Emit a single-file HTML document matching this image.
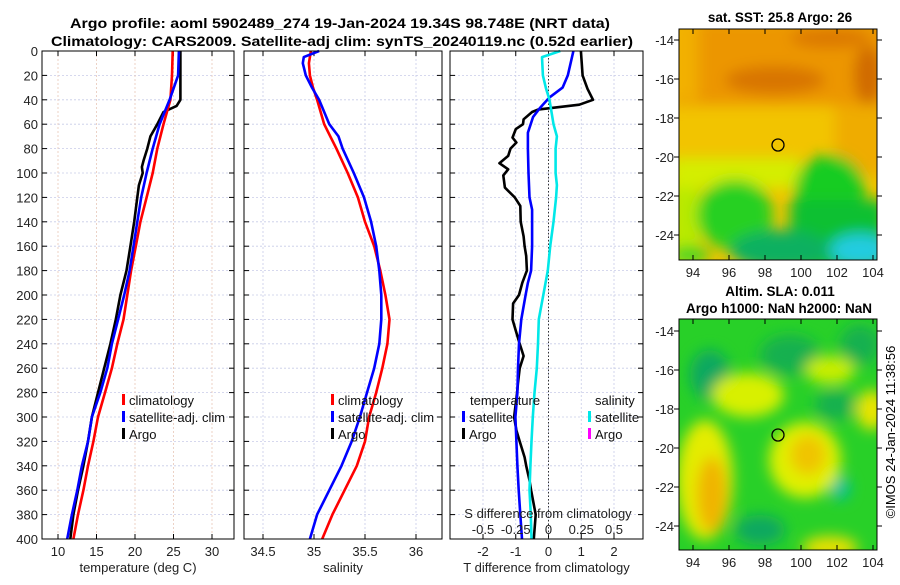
<!DOCTYPE html>
<html><head><meta charset="utf-8"><style>
body{margin:0;background:#fff;}
svg{font-family:"Liberation Sans","DejaVu Sans",sans-serif;}
</style></head><body>
<svg id="chart" width="900" height="580" viewBox="0 0 900 580" xmlns="http://www.w3.org/2000/svg">
<defs>
<filter id="bl" x="-20%" y="-20%" width="140%" height="140%"><feGaussianBlur stdDeviation="7"/></filter>
<clipPath id="c1"><rect x="679" y="29" width="198" height="231"/></clipPath>
<clipPath id="c2"><rect x="679" y="319" width="198" height="231"/></clipPath>
</defs>
<text x="340" y="28" font-size="13.5" font-weight="bold" text-anchor="middle" textLength="540" lengthAdjust="spacingAndGlyphs">Argo profile: aoml 5902489_274 19-Jan-2024 19.34S 98.748E (NRT data)</text>
<text x="342" y="46" font-size="13.5" font-weight="bold" text-anchor="middle" textLength="582" lengthAdjust="spacingAndGlyphs">Climatology: CARS2009. Satellite-adj clim: synTS_20240119.nc (0.52d earlier)</text>

<!-- SST map -->
<g clip-path="url(#c1)">
<rect x="679" y="29" width="198" height="231" fill="#f2c400"/>
<g filter="url(#bl)">
<rect x="670" y="20" width="220" height="85" fill="#ec9600"/>
<rect x="670" y="20" width="28" height="80" fill="#f2b000"/>
<ellipse cx="775" cy="80" rx="50" ry="14" fill="#d87400"/>
<ellipse cx="868" cy="75" rx="14" ry="30" fill="#d06a00"/>
<ellipse cx="830" cy="38" rx="40" ry="10" fill="#dc7800"/>
<rect x="835" y="105" width="50" height="70" fill="#efac00"/>
<rect x="670" y="158" width="130" height="30" fill="#d4ee00"/>
<rect x="670" y="188" width="30" height="80" fill="#b8ea00"/>
<ellipse cx="735" cy="215" rx="38" ry="35" fill="#28d020"/>
<ellipse cx="830" cy="190" rx="35" ry="35" fill="#18cc20"/>
<rect x="790" y="200" width="95" height="70" fill="#10c030"/>
<ellipse cx="780" cy="250" rx="50" ry="20" fill="#10b060"/>
<ellipse cx="860" cy="250" rx="30" ry="16" fill="#20cce0"/>
<ellipse cx="690" cy="255" rx="20" ry="8" fill="#20d020"/>
</g>
</g>
<rect x="679" y="29" width="198" height="231" fill="none" stroke="#000" stroke-width="1"/>
<circle cx="778" cy="145" r="6" fill="none" stroke="#000" stroke-width="1.3"/>
<text x="780" y="22" font-size="13.5" font-weight="bold" text-anchor="middle">sat. SST: 25.8 Argo: 26</text>

<!-- SLA map -->
<g clip-path="url(#c2)">
<rect x="679" y="319" width="198" height="231" fill="#28d028"/>
<g filter="url(#bl)">
<ellipse cx="710" cy="375" rx="20" ry="25" fill="#10a860"/>
<ellipse cx="790" cy="355" rx="30" ry="20" fill="#18b050"/>
<ellipse cx="860" cy="345" rx="20" ry="20" fill="#18b050"/>
<ellipse cx="835" cy="405" rx="20" ry="15" fill="#18b050"/>
<ellipse cx="760" cy="530" rx="25" ry="15" fill="#10a860"/>
<ellipse cx="840" cy="488" rx="10" ry="12" fill="#00c0a0"/>
<ellipse cx="748" cy="395" rx="36" ry="22" fill="#d8f000"/>
<ellipse cx="830" cy="370" rx="25" ry="14" fill="#c8ee00"/>
<ellipse cx="705" cy="480" rx="28" ry="60" fill="#e4ec00"/>
<ellipse cx="712" cy="495" rx="15" ry="38" fill="#f0b400"/>
<ellipse cx="805" cy="460" rx="36" ry="38" fill="#e0f000"/>
<ellipse cx="808" cy="455" rx="18" ry="20" fill="#f0c400"/>
<ellipse cx="872" cy="410" rx="16" ry="20" fill="#e8e400"/>
<ellipse cx="830" cy="548" rx="28" ry="12" fill="#e8e000"/>
</g>
</g>
<rect x="679" y="319" width="198" height="231" fill="none" stroke="#000" stroke-width="1"/>
<circle cx="778" cy="435" r="6" fill="none" stroke="#000" stroke-width="1.3"/>
<text x="780" y="296" font-size="13.5" font-weight="bold" text-anchor="middle">Altim. SLA: 0.011</text>
<text x="779" y="313" font-size="13.5" font-weight="bold" text-anchor="middle">Argo h1000: NaN h2000: NaN</text>
<text x="895" y="432" font-size="13" text-anchor="middle" transform="rotate(-90 895 432)">©IMOS 24-Jan-2024 11:38:56</text>
<g id="plots"></g>
</svg>
<script>
// depth levels (m)
const depths = [0,20,40,60,80,100,120,140,160,180,200,220,240,260,280,300,320,340,360,380,400];
const tempClim = [24.9,24.8,24.6,23.7,22.9,22.3,21.5,20.7,20.1,19.5,19.0,18.5,17.7,17.0,16.1,15.2,14.6,13.9,13.3,12.6,12.0];
const tempSat  = [25.7,25.6,24.5,23.2,22.3,21.5,20.8,20.3,19.8,19.3,18.6,17.8,17.0,16.4,15.5,14.4,13.9,13.1,12.5,11.8,11.2];
const argoDepths = [0,40,45,50,60,70,80,90,95,100,110,120,140,160,180,200,220,240,260,280,300,320,340,360,380,400];
const tempArgo = [25.9,25.9,25.4,23.7,22.9,22.0,21.6,21.1,20.9,21.0,20.5,20.3,19.9,19.4,18.9,18.1,17.5,16.8,16.0,15.2,14.4,13.9,13.3,12.6,12.0,11.6];
const salDepths = [0,5,10,20,30,40,60,70,80,100,120,140,160,180,200,220,240,260,280,300,320,340,360,380,400];
const salClim = [34.97,34.96,34.95,34.96,34.99,35.03,35.10,35.16,35.22,35.33,35.43,35.50,35.59,35.65,35.70,35.74,35.72,35.67,35.61,35.54,35.50,35.42,35.30,35.18,35.08];
const salSat  = [35.05,34.90,34.89,34.92,34.98,35.05,35.15,35.24,35.28,35.39,35.49,35.56,35.61,35.64,35.66,35.66,35.64,35.59,35.52,35.45,35.37,35.27,35.15,35.03,34.96];
const tdSatDepths = [0,20,30,38,47,54,67,80,100,120,130,160,180,190,200,220,240,260,280,300,320,340,360,380,400];
const tdiffSat = [0.76,0.59,0.43,0.03,-0.27,-0.47,-0.63,-0.63,-0.61,-0.58,-0.50,-0.50,-0.53,-0.63,-0.70,-0.83,-0.90,-0.93,-0.95,-1.01,-0.98,-0.95,-0.91,-0.86,-0.81];
const tdArgoDepths = [0,20,31,40,44,48,50,56,60,64,71,75,80,86,92,97,102,112,120,127,140,152,160,168,180,190,200,207,220,231,240,250,260,272,280,300,311,320,333,340,352,360,380,400];
const tdiffArgo = [0.99,1.04,1.19,1.36,0.94,-0.32,-0.50,-0.76,-0.78,-1.00,-1.10,-0.98,-1.16,-1.23,-1.50,-1.23,-1.38,-1.33,-1.03,-0.86,-0.85,-0.76,-0.73,-0.68,-0.66,-0.80,-0.90,-1.08,-1.10,-0.98,-0.88,-0.76,-0.88,-0.93,-0.96,-1.05,-0.98,-0.88,-0.73,-0.68,-0.58,-0.53,-0.39,-0.45];
const sdDepths = [0,5,20,31,40,60,70,80,100,110,120,140,160,180,200,220,240,260,280,300,320,340,360,380,400];
const sdiffSat = [0.09,-0.05,-0.043,-0.018,0.008,0.038,0.064,0.054,0.054,0.064,0.058,0.038,0.013,-0.005,-0.04,-0.074,-0.08,-0.089,-0.107,-0.12,-0.13,-0.138,-0.145,-0.135,-0.13];
const depthTicks = [0,20,40,60,80,100,120,140,160,180,200,220,240,260,280,300,320,340,360,380,400];
const tempTicks = [10,15,20,25,30];
const salTicks = [34.5,35,35.5,36];
const tdTicks = [-2,-1,0,1,2];
const sdTicks = [-0.5,-0.25,0,0.25,0.5];
const sdTickLabels = ['-0.5','-0.25','0','0.25','0.5'];

const NS='http://www.w3.org/2000/svg';
const root=document.getElementById('plots');
function mk(tag,attrs,parent){const e=document.createElementNS(NS,tag);for(const k in attrs)e.setAttribute(k,attrs[k]);(parent||root).appendChild(e);return e;}
const Y0=51,Y1=539;
function yScale(d){return Y0+(d/400)*(Y1-Y0);}
function lin(d0,d1,r0,r1){return v=>r0+(v-d0)/(d1-d0)*(r1-r0);}
const panels=[
 {name:'temperature-panel',x0:42,x1:234,sx:lin(10,30,58,212),ticks:tempTicks,title:'temperature (deg C)',gridCol:'#e8c8b8',yl:true},
 {name:'salinity-panel',x0:244,x1:442,sx:lin(34.5,36,263,416),ticks:salTicks,title:'salinity',gridCol:'#c8cce8'},
 {name:'difference-panel',x0:450,x1:643,sx:lin(-2,2,483,614),ticks:tdTicks,title:'T difference from climatology',gridCol:'#c8cce8'}
];
panels.forEach(p=>{
 const g=mk('g',{});
 
 
 depthTicks.forEach(d=>{
  const y=yScale(d);
  const gl=mk('line',{x1:p.x0,x2:p.x1,y1:y,y2:y,stroke:'#c8cce8','stroke-width':0.8,'stroke-dasharray':'2,2'},g);
  
  
  mk('line',{x1:p.x0,x2:p.x0+5,y1:y,y2:y,stroke:'#000'},g);
  mk('line',{x1:p.x1,x2:p.x1-5,y1:y,y2:y,stroke:'#000'},g);
  if(p.yl){const t=mk('text',{x:38,y:y+5,'font-size':13,'text-anchor':'end',fill:'#222'},g);t.textContent=d;
   }
 });
 p.ticks.forEach(v=>{
  const x=p.sx(v);
  mk('line',{x1:x,x2:x,y1:Y0,y2:Y1,stroke:p.gridCol,'stroke-width':0.8,'stroke-dasharray':'2,2'},g);
  mk('line',{x1:x,x2:x,y1:Y1,y2:Y1-5,stroke:'#000'},g);
  mk('line',{x1:x,x2:x,y1:Y0,y2:Y0+5,stroke:'#000'},g);
  const t=mk('text',{x:x,y:556,'font-size':13,'text-anchor':'middle',fill:'#222'},g);t.textContent=v;
  
 });
 const tt=mk('text',{x:(p.x0+p.x1)/2,y:572,'font-size':13,'text-anchor':'middle',fill:'#222'},g);tt.textContent=p.title;
 
 p.g=g;
});
function line(g,xs,ds,sx,col,name,w){
 const pts=xs.map((v,i)=>sx(v).toFixed(1)+','+yScale(ds[i]).toFixed(1)).join(' ');
 const l=mk('polyline',{points:pts,fill:'none',stroke:col,'stroke-width':w||2.6,'stroke-linejoin':'round'},g);
 
 
}
const [P1,P2,P3]=panels;
line(P1.g,tempArgo,argoDepths,P1.sx,'#000','argo-temperature-line');
line(P1.g,tempClim,depths,P1.sx,'#ff0000','climatology-temperature-line');
line(P1.g,tempSat,depths,P1.sx,'#0000ff','satellite-temperature-line');
line(P2.g,salClim,salDepths,P2.sx,'#ff0000','climatology-salinity-line');
line(P2.g,salSat,salDepths,P2.sx,'#0000ff','satellite-salinity-line');
const z=mk('line',{x1:P3.sx(0),x2:P3.sx(0),y1:Y0,y2:Y1,stroke:'#333','stroke-width':1,'stroke-dasharray':'1.5,2'},P3.g);

const ssx=lin(-0.5,0.5,483,614);
line(P3.g,tdiffArgo,tdArgoDepths,P3.sx,'#000','argo-temperature-difference-line');
line(P3.g,tdiffSat,tdSatDepths,P3.sx,'#0000ff','satellite-temperature-difference-line');
line(P3.g,sdiffSat,sdDepths,ssx,'#00e8e8','satellite-salinity-difference-line');
const st=mk('text',{x:548,y:518,'font-size':13,'text-anchor':'middle',fill:'#222'},P3.g);st.textContent='S difference from climatology';

sdTicks.forEach((v,i)=>{const t=mk('text',{x:ssx(v),y:534,'font-size':13,'text-anchor':'middle',fill:'#222'},P3.g);t.textContent=sdTickLabels[i];
 });
panels.forEach(p=>mk('rect',{x:p.x0,y:Y0,width:p.x1-p.x0,height:Y1-Y0,fill:'none',stroke:'#000','stroke-width':1},p.g));
function leg(g,x,y,col,label,name){
 const b=mk('rect',{x:x,y:y-11,width:3,height:11,fill:col},g);
 
 const t=mk('text',{x:x+7,y:y,'font-size':13,fill:'#111'},g);t.textContent=label;
 
}
leg(P1.g,122,405,'#ff0000','climatology','legend-climatology');
leg(P1.g,122,422,'#0000ff','satellite-adj. clim','legend-satellite-adj');
leg(P1.g,122,439,'#000','Argo','legend-argo');
leg(P2.g,331,405,'#ff0000','climatology','legend-climatology');
leg(P2.g,331,422,'#0000ff','satellite-adj. clim','legend-satellite-adj');
leg(P2.g,331,439,'#000','Argo','legend-argo');
const th=mk('text',{x:470,y:405,'font-size':13,fill:'#111'},P3.g);th.textContent='temperature';

const sh=mk('text',{x:595,y:405,'font-size':13,fill:'#111'},P3.g);sh.textContent='salinity';

leg(P3.g,462,422,'#0000ff','satellite','legend-temp-satellite');
leg(P3.g,462,439,'#000','Argo','legend-temp-argo');
leg(P3.g,588,422,'#00e8e8','satellite','legend-sal-satellite');
leg(P3.g,588,439,'#ff00ff','Argo','legend-sal-argo');
const lonTicks=[94,96,98,100,102,104];
const latTicks=[-14,-16,-18,-20,-22,-24];
[[29,40],[319,331]].forEach(([top,y14],mi)=>{
 const g=mk('g',{});
 
 
 const lx=lin(94,104,693,873), ly=lin(-14,-24,y14,y14+195);
 lonTicks.forEach(v=>{const x=lx(v);
  mk('line',{x1:x,x2:x,y1:top+231,y2:top+226,stroke:'#000'},g);
  mk('line',{x1:x,x2:x,y1:top,y2:top+5,stroke:'#000'},g);
  const t=mk('text',{x:x,y:top+248,'font-size':13,'text-anchor':'middle',fill:'#222'},g);t.textContent=v;
  });
 latTicks.forEach(v=>{const y=ly(v);
  mk('line',{x1:877,x2:882,y1:y,y2:y,stroke:'#000'},g);
  mk('line',{x1:679,x2:674,y1:y,y2:y,stroke:'#000'},g);
  const t=mk('text',{x:674,y:y+5,'font-size':13,'text-anchor':'end',fill:'#222'},g);t.textContent=v;
  });
});
</script>
</body></html>
